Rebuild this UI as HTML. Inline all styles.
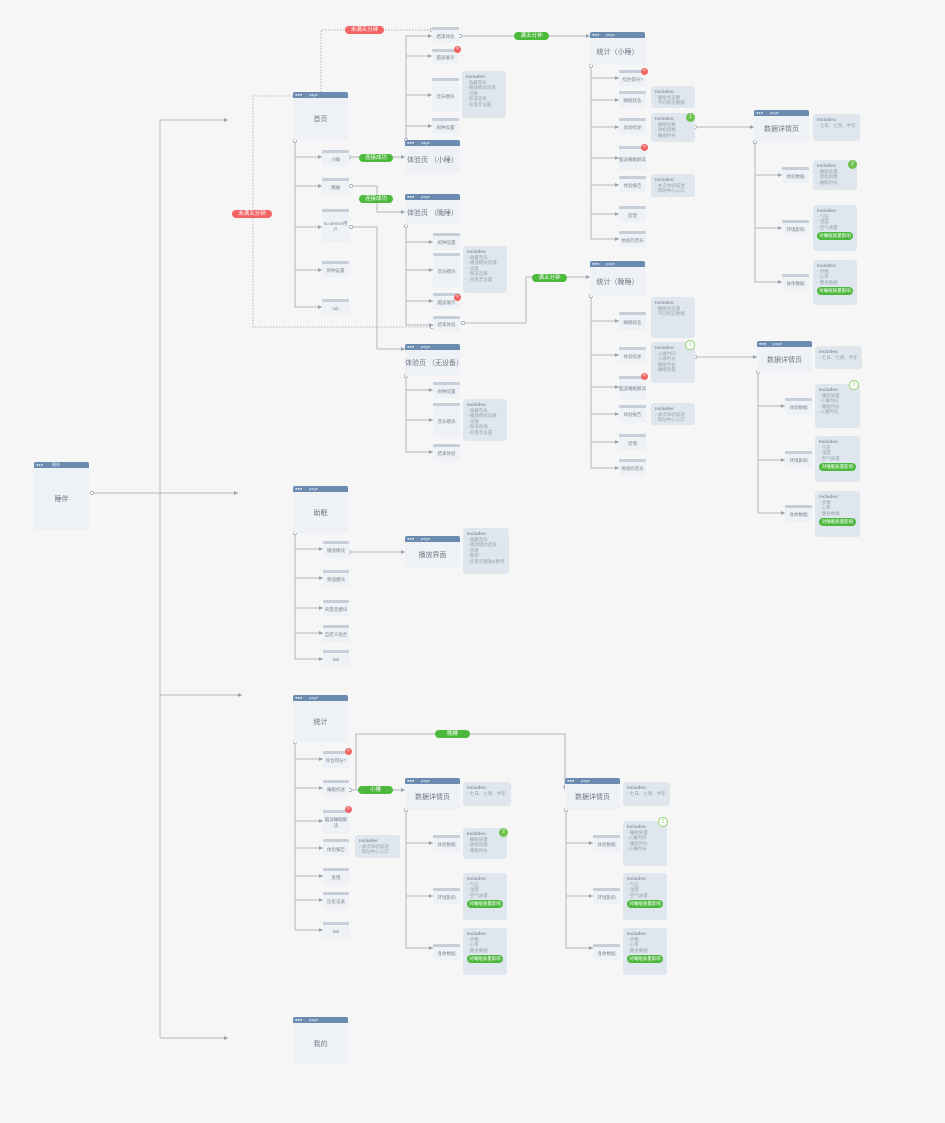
<!DOCTYPE html>
<html><head><meta charset="utf-8">
<style>
*{margin:0;padding:0;box-sizing:border-box}
body{width:945px;height:1123px;background:#f6f6f6;position:relative;overflow:hidden;font-family:"Liberation Sans","Noto Sans CJK SC",sans-serif;color:#7b8590}
.p{position:absolute;background:#eef1f6;border-radius:2px;display:flex;align-items:center;justify-content:center;font-size:7px;color:#6f7882;padding-top:6px}
.p::before{content:"●●●      page";position:absolute;left:0;top:0;right:0;height:6px;background:#6b8cb0;color:#e8eef5;font-size:4px;line-height:6px;padding-left:2px;border-radius:2px 2px 0 0;white-space:pre}
.p.root::before{content:"●●●        睡伴"}
.s{position:absolute;background:#eef1f6;border-radius:1px;display:flex;align-items:center;justify-content:center;text-align:center;font-size:4.5px;line-height:6px;color:#7b8590;padding-top:3px}
.s::before{content:"";position:absolute;left:0;top:0;right:0;height:3px;background:#c6ced8;border-radius:1px}
.i{position:absolute;background:#dfe6ee;border-radius:3px;font-size:4.5px;line-height:5.6px;color:#98a2ad;padding:3px 4px}
.i b{color:#8c96a1}
.gp{display:block;background:#4cb83c;color:#fff;border-radius:4px;text-align:center;margin-top:2px;padding:1px 0;font-size:4.5px}
.t{position:absolute;height:8px;border-radius:4px;color:#fff;font-size:5.5px;line-height:8px;text-align:center}
.g{background:#4cb83c}.r{background:#f26464}
.x{position:absolute;width:7px;height:7px;border-radius:50%;background:#f26464;color:#fff;font-size:5px;line-height:7px;text-align:center}
.n{position:absolute;width:9px;height:9px;border-radius:50%;background:#6cc24a;color:#fff;font-size:5px;line-height:9px;text-align:center}
.o{position:absolute;width:10px;height:10px;border-radius:50%;background:#fff;border:1px solid #8fd46f;color:#8fd46f;font-size:5px;line-height:8px;text-align:center}
svg{position:absolute;left:0;top:0}
</style></head><body>
<svg width="945" height="1123" fill="none" stroke="#b0b7bf" stroke-width="1">
<defs><marker id="a" viewBox="0 0 4 4" refX="4" refY="2" markerWidth="4" markerHeight="4" orient="auto"><path d="M0 0L4 2L0 4z" fill="#9aa2ab" stroke="none"/></marker></defs>
<path d="M92 493H160"/>
<path stroke="#cdd2d8" stroke-width="1.6" d="M160 120V1038"/>
<g marker-end="url(#a)">
<path d="M160 120H228"/><path d="M160 493H238"/><path d="M160 695H242"/><path d="M160 1038H228"/>
<path d="M295 141V157H322"/><path d="M295 186H322"/><path d="M295 227H322"/><path d="M295 270H322"/><path d="M295 157V307H322"/>
<path d="M349 157H405"/><path d="M351 186H377V212H405"/><path d="M351 227H377V349H405"/>
<path d="M406 140V36H432"/><path d="M406 56H432"/><path d="M406 95H432"/><path d="M406 126H432"/>
<path d="M460 36H590"/>
<path d="M406 226V325H433"/><path d="M406 242H433"/><path d="M406 270H433"/><path d="M406 301H433"/>
<path d="M463 323H526V277H590"/>
<path d="M406 376V452H433"/><path d="M406 390H433"/><path d="M406 420H433"/>
<path d="M591 66V239H619"/><path d="M591 78H619"/><path d="M591 100H619"/><path d="M591 127H619"/><path d="M591 158H619"/><path d="M591 185H619"/><path d="M591 214H619"/>
<path d="M695 127H754"/>
<path d="M755 142V282H782"/><path d="M755 175H782"/><path d="M755 228H782"/>
<path d="M591 296V468H619"/><path d="M591 321H619"/><path d="M591 355H619"/><path d="M591 387H619"/><path d="M591 414H619"/><path d="M591 442H619"/>
<path d="M695 357H757"/>
<path d="M758 372V513H785"/><path d="M758 406H785"/><path d="M758 460H785"/>
<path d="M295 533V659H323"/><path d="M295 549H323"/><path d="M295 578H323"/><path d="M295 608H323"/><path d="M295 633H323"/>
<path d="M349 552H405"/>
<path d="M295 742V930H323"/><path d="M295 759H323"/><path d="M295 788H323"/><path d="M295 821H323"/><path d="M295 848H323"/><path d="M295 876H323"/><path d="M295 900H323"/>
<path d="M350 790H405"/><path d="M356 790V734H565V790"/>
<path d="M406 810V948H433"/><path d="M406 843H433"/><path d="M406 896H433"/>
<path d="M566 810V948H593"/><path d="M566 843H593"/><path d="M566 896H593"/>
</g>
<path stroke-dasharray="1.5 1.5" d="M321 92V30H432M293 96H253V327H432"/>
<g fill="#fff" stroke="#9aa2ab" stroke-width="0.7">
<circle cx="92" cy="493" r="1.6"/><circle cx="295" cy="141" r="1.6"/><circle cx="349" cy="157" r="1.6"/><circle cx="351" cy="186" r="1.6"/><circle cx="351" cy="227" r="1.6"/>
<circle cx="406" cy="140" r="1.6"/><circle cx="460" cy="36" r="1.6"/><circle cx="406" cy="226" r="1.6"/><circle cx="463" cy="323" r="1.6"/><circle cx="406" cy="376" r="1.6"/>
<circle cx="591" cy="66" r="1.6"/><circle cx="695" cy="127" r="1.6"/><circle cx="755" cy="142" r="1.6"/><circle cx="591" cy="296" r="1.6"/><circle cx="695" cy="357" r="1.6"/><circle cx="758" cy="372" r="1.6"/>
<circle cx="295" cy="533" r="1.6"/><circle cx="349" cy="552" r="1.6"/><circle cx="295" cy="742" r="1.6"/><circle cx="350" cy="790" r="1.6"/><circle cx="406" cy="810" r="1.6"/><circle cx="566" cy="810" r="1.6"/>
<circle cx="432" cy="327" r="1.6"/><circle cx="432" cy="30" r="1.6"/>
</g>
</svg>

<div class="p root" style="left:34px;top:462px;width:55px;height:68px">睡伴</div>

<div class="p" style="left:293px;top:92px;width:55px;height:48px">首页</div>
<div class="s" style="left:322px;top:150px;width:27px;height:16px">小睡</div>
<div class="s" style="left:322px;top:178px;width:27px;height:17px">晚睡</div>
<div class="s" style="left:322px;top:209px;width:27px;height:33px">no device用户</div>
<div class="s" style="left:322px;top:261px;width:27px;height:17px">闹钟设置</div>
<div class="s" style="left:322px;top:299px;width:27px;height:16px">tab</div>
<div class="t g" style="left:359px;top:154px;width:34px">连接成功</div>
<div class="t g" style="left:359px;top:195px;width:34px">连接成功</div>
<div class="t r" style="left:345px;top:26px;width:39px">未满五分钟</div>
<div class="t r" style="left:232px;top:210px;width:40px">未满五分钟</div>

<div class="p" style="left:405px;top:140px;width:55px;height:33px">体验页 （小睡）</div>
<div class="s" style="left:432px;top:27px;width:27px;height:16px">结束体验</div>
<div class="s" style="left:432px;top:49px;width:27px;height:15px">脑波展示</div><div class="x" style="left:454px;top:46px">×</div>
<div class="s" style="left:432px;top:78px;width:27px;height:34px">音乐模块</div>
<div class="i" style="left:462px;top:71px;width:44px;height:47px"><b>Includes:</b><br>- 收藏音乐<br>- 播放模式选择<br>- 切歌<br>- 频道选择<br>- 背景音设置</div>
<div class="s" style="left:432px;top:118px;width:27px;height:16px">闹钟设置</div>
<div class="t g" style="left:514px;top:32px;width:35px">满五分钟</div>

<div class="p" style="left:405px;top:194px;width:55px;height:31px">体验页 （晚睡）</div>
<div class="s" style="left:433px;top:233px;width:27px;height:17px">闹钟设置</div>
<div class="s" style="left:433px;top:253px;width:27px;height:34px">音乐模块</div>
<div class="i" style="left:463px;top:246px;width:44px;height:47px"><b>Includes:</b><br>- 收藏音乐<br>- 播放模式选择<br>- 切歌<br>- 频道选择<br>- 背景音设置</div>
<div class="s" style="left:433px;top:293px;width:27px;height:16px">脑波展示</div><div class="x" style="left:454px;top:294px">×</div>
<div class="s" style="left:433px;top:316px;width:27px;height:15px">结束体验</div>
<div class="t g" style="left:532px;top:274px;width:35px">满五分钟</div>

<div class="p" style="left:405px;top:344px;width:55px;height:32px">体验页 （无设备）</div>
<div class="s" style="left:433px;top:382px;width:27px;height:16px">闹钟设置</div>
<div class="s" style="left:433px;top:403px;width:27px;height:34px">音乐模块</div>
<div class="i" style="left:463px;top:399px;width:44px;height:42px"><b>Includes:</b><br>- 收藏音乐<br>- 播放模式选择<br>- 切歌<br>- 频道选择<br>- 背景音设置</div>
<div class="s" style="left:433px;top:444px;width:27px;height:17px">结束体验</div>

<div class="p" style="left:590px;top:32px;width:55px;height:33px">统计（小睡）</div>
<div class="s" style="left:619px;top:70px;width:27px;height:16px">综合得分?</div><div class="x" style="left:641px;top:68px">×</div>
<div class="s" style="left:619px;top:91px;width:27px;height:17px">睡眠状态</div>
<div class="i" style="left:651px;top:86px;width:44px;height:22px"><b>Includes:</b><br>- 睡眠状态图<br>- 不同状态数据</div>
<div class="s" style="left:619px;top:118px;width:27px;height:17px">体验综述</div>
<div class="i" style="left:651px;top:113px;width:44px;height:29px"><b>Includes:</b><br>- 睡眠指数<br>- 放松指数<br>- 睡眠时长</div><div class="n" style="left:686px;top:113px">1</div>
<div class="s" style="left:619px;top:146px;width:27px;height:24px">脑波睡眠解读</div><div class="x" style="left:641px;top:144px">×</div>
<div class="s" style="left:619px;top:176px;width:27px;height:17px">体验报告</div>
<div class="i" style="left:651px;top:174px;width:44px;height:23px"><b>Includes:</b><br>- 本次体验描述<br>- 帮助中心入口</div>
<div class="s" style="left:619px;top:206px;width:27px;height:16px">反馈</div>
<div class="s" style="left:619px;top:231px;width:27px;height:16px">体验的音乐</div>

<div class="p" style="left:754px;top:110px;width:55px;height:31px">数据详情页</div>
<div class="i" style="left:813px;top:114px;width:47px;height:27px"><b>Includes:</b><br>- 七日、七周、半年</div>
<div class="s" style="left:782px;top:167px;width:27px;height:16px">体验数据</div>
<div class="i" style="left:813px;top:160px;width:44px;height:30px"><b>Includes:</b><br>- 睡眠质量<br>- 放松指数<br>- 睡眠时长</div><div class="n" style="left:848px;top:160px">2</div>
<div class="s" style="left:782px;top:220px;width:27px;height:16px">环境影响</div>
<div class="i" style="left:813px;top:205px;width:44px;height:46px"><b>Includes:</b><br>- 气压<br>- 湿度<br>- 空气质量<span class="gp">对睡眠质量影响</span></div>
<div class="s" style="left:782px;top:274px;width:27px;height:17px">身体数据</div>
<div class="i" style="left:813px;top:260px;width:44px;height:45px"><b>Includes:</b><br>- 步数<br>- 心率<br>- 健身数据<span class="gp">对睡眠质量影响</span></div>

<div class="p" style="left:590px;top:261px;width:55px;height:35px">统计（晚睡）</div>
<div class="s" style="left:619px;top:312px;width:27px;height:18px">睡眠状态</div>
<div class="i" style="left:651px;top:297px;width:44px;height:41px"><b>Includes:</b><br>- 睡眠状态图<br>- 不同状态数据</div>
<div class="s" style="left:619px;top:347px;width:27px;height:16px">体验综述</div>
<div class="i" style="left:651px;top:342px;width:44px;height:41px"><b>Includes:</b><br>- 入睡时间<br>- 入睡时长<br>- 睡眠时长<br>- 睡眠质量</div><div class="o" style="left:685px;top:340px">1</div>
<div class="s" style="left:619px;top:376px;width:27px;height:23px">脑波睡眠解读</div><div class="x" style="left:641px;top:373px">×</div>
<div class="s" style="left:619px;top:405px;width:27px;height:17px">体验报告</div>
<div class="i" style="left:651px;top:403px;width:44px;height:22px"><b>Includes:</b><br>- 本次体验描述<br>- 帮助中心入口</div>
<div class="s" style="left:619px;top:434px;width:27px;height:16px">反馈</div>
<div class="s" style="left:619px;top:459px;width:27px;height:17px">体验的音乐</div>

<div class="p" style="left:757px;top:341px;width:55px;height:31px">数据详情页</div>
<div class="i" style="left:815px;top:346px;width:47px;height:23px"><b>Includes:</b><br>- 七日、七周、半年</div>
<div class="s" style="left:785px;top:398px;width:27px;height:17px">体验数据</div>
<div class="i" style="left:815px;top:384px;width:45px;height:44px"><b>Includes:</b><br>- 睡眠质量<br>-入睡时间<br>- 睡眠时长<br>-入睡时长</div><div class="o" style="left:849px;top:380px">2</div>
<div class="s" style="left:785px;top:451px;width:27px;height:17px">环境影响</div>
<div class="i" style="left:815px;top:436px;width:45px;height:46px"><b>Includes:</b><br>- 气压<br>- 湿度<br>- 空气质量<span class="gp">对睡眠质量影响</span></div>
<div class="s" style="left:785px;top:505px;width:27px;height:17px">身体数据</div>
<div class="i" style="left:815px;top:491px;width:45px;height:46px"><b>Includes:</b><br>- 步数<br>- 心率<br>- 健身数据<span class="gp">对睡眠质量影响</span></div>

<div class="p" style="left:293px;top:486px;width:55px;height:47px">助眠</div>
<div class="s" style="left:323px;top:541px;width:26px;height:17px">播放模块</div>
<div class="s" style="left:323px;top:570px;width:26px;height:17px">频道模块</div>
<div class="s" style="left:323px;top:600px;width:26px;height:17px">背景音模块</div>
<div class="s" style="left:323px;top:625px;width:26px;height:17px">自定义组合</div>
<div class="s" style="left:323px;top:650px;width:26px;height:17px">tab</div>
<div class="p" style="left:405px;top:536px;width:55px;height:31px">播放界面</div>
<div class="i" style="left:463px;top:528px;width:46px;height:46px"><b>Includes:</b><br>- 收藏音乐<br>- 播放模式选择<br>- 切歌<br>- 暂停<br>- 背景音播放&amp;暂停</div>

<div class="p" style="left:293px;top:695px;width:55px;height:47px">统计</div>
<div class="s" style="left:323px;top:751px;width:26px;height:17px">综合得分?</div><div class="x" style="left:345px;top:748px">×</div>
<div class="s" style="left:323px;top:780px;width:26px;height:17px">睡眠综述</div>
<div class="s" style="left:323px;top:810px;width:26px;height:23px">脑波睡眠解读</div><div class="x" style="left:345px;top:806px">×</div>
<div class="s" style="left:323px;top:839px;width:26px;height:18px">体验报告</div>
<div class="i" style="left:355px;top:835px;width:45px;height:23px"><b>Includes:</b><br>- 本次体验描述<br>- 帮助中心入口</div>
<div class="s" style="left:323px;top:868px;width:26px;height:17px">反馈</div>
<div class="s" style="left:323px;top:892px;width:26px;height:17px">历史记录</div>
<div class="s" style="left:323px;top:922px;width:26px;height:17px">tab</div>
<div class="t g" style="left:358px;top:786px;width:35px">小睡</div>
<div class="t g" style="left:435px;top:730px;width:35px">晚睡</div>

<div class="p" style="left:405px;top:778px;width:55px;height:32px">数据详情页</div>
<div class="i" style="left:463px;top:782px;width:48px;height:24px"><b>Includes:</b><br>- 七日、七周、半年</div>
<div class="s" style="left:433px;top:835px;width:27px;height:17px">体验数据</div>
<div class="i" style="left:463px;top:828px;width:44px;height:31px"><b>Includes:</b><br>- 睡眠质量<br>- 放松指数<br>- 睡眠时长</div><div class="n" style="left:499px;top:828px">2</div>
<div class="s" style="left:433px;top:888px;width:27px;height:17px">环境影响</div>
<div class="i" style="left:463px;top:873px;width:44px;height:47px"><b>Includes:</b><br>- 气压<br>- 湿度<br>- 空气质量<span class="gp">对睡眠质量影响</span></div>
<div class="s" style="left:433px;top:944px;width:27px;height:16px">身体数据</div>
<div class="i" style="left:463px;top:928px;width:44px;height:47px"><b>Includes:</b><br>- 步数<br>- 心率<br>- 健身数据<span class="gp">对睡眠质量影响</span></div>

<div class="p" style="left:565px;top:778px;width:55px;height:32px">数据详情页</div>
<div class="i" style="left:623px;top:782px;width:47px;height:24px"><b>Includes:</b><br>- 七日、七周、半年</div>
<div class="s" style="left:593px;top:835px;width:27px;height:17px">体验数据</div>
<div class="i" style="left:623px;top:821px;width:44px;height:45px"><b>Includes:</b><br>- 睡眠质量<br>-入睡时间<br>- 睡眠时长<br>-入睡时长</div><div class="o" style="left:658px;top:817px">2</div>
<div class="s" style="left:593px;top:888px;width:27px;height:17px">环境影响</div>
<div class="i" style="left:623px;top:873px;width:44px;height:47px"><b>Includes:</b><br>- 气压<br>- 湿度<br>- 空气质量<span class="gp">对睡眠质量影响</span></div>
<div class="s" style="left:593px;top:944px;width:27px;height:16px">身体数据</div>
<div class="i" style="left:623px;top:928px;width:44px;height:47px"><b>Includes:</b><br>- 步数<br>- 心率<br>- 健身数据<span class="gp">对睡眠质量影响</span></div>

<div class="p" style="left:293px;top:1017px;width:55px;height:47px">我的</div>
</body></html>
